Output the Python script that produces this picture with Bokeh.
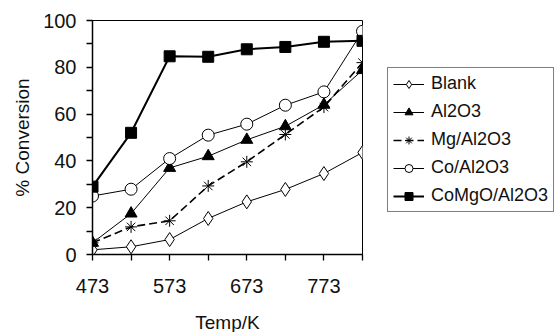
from bokeh.plotting import figure
from bokeh.models import FixedTicker, Legend, LegendItem
from bokeh.embed import file_html
from bokeh.resources import INLINE

temps = [473, 523, 573, 623, 673, 723, 773, 823]
blank = [2, 3.3, 6.4, 15.4, 22.5, 27.8, 34.6, 43.6]
al2o3 = [5, 17.5, 37, 42, 49, 54.8, 64, 78.8]
mg_al2o3 = [5, 11.8, 14.4, 29.3, 39.6, 51.3, 63, 82]
co_al2o3 = [25, 27.9, 41, 51, 55.7, 63.8, 69.5, 95.4]
comgo_al2o3 = [29, 52, 84.7, 84.5, 87.7, 88.7, 90.9, 91.3]

x_major = [473, 573, 673, 773]
x_minor = [523, 623, 723, 823]
y_major = [0, 20, 40, 60, 80, 100]
y_minor = [10, 30, 50, 70, 90]

FONT = "Liberation Sans"

p = figure(frame_width=270, frame_height=234, x_range=(473, 823), y_range=(0, 100),
           output_backend="svg", toolbar_location=None,
           min_border_left=92, min_border_top=20, min_border_bottom=72, min_border_right=180,
           background_fill_color="white", border_fill_color="white")
p.grid.visible = False
p.outline_line_color = "black"
p.outline_line_width = 1

p.xaxis.ticker = FixedTicker(ticks=x_major, minor_ticks=x_minor)
p.yaxis.ticker = FixedTicker(ticks=y_major, minor_ticks=y_minor)
for ax in (p.xaxis[0], p.yaxis[0]):
    ax.axis_line_color = "black"
    ax.axis_line_width = 1.5
    ax.major_tick_in = 0
    ax.major_tick_out = 6
    ax.minor_tick_in = 0
    ax.minor_tick_out = 6
    ax.major_tick_line_color = "black"
    ax.minor_tick_line_color = "black"
    ax.major_tick_line_width = 1.3
    ax.minor_tick_line_width = 1.3
    ax.major_label_text_font = FONT
    ax.major_label_text_font_size = "20px"
    ax.major_label_text_color = "#111111"
    ax.axis_label_text_font = FONT
    ax.axis_label_text_font_size = "19px"
    ax.axis_label_text_font_style = "normal"
    ax.axis_label_text_color = "#111111"
p.xaxis.axis_label = "Temp/K"
p.yaxis.axis_label = "% Conversion"
p.xaxis.major_label_standoff = 18
p.xaxis.axis_label_standoff = 16
p.yaxis.major_label_standoff = 10
p.yaxis.axis_label_standoff = 7

items = []
l1 = p.line(temps, blank, line_color="black", line_width=1)
m1 = p.scatter(temps, blank, marker="diamond", size=14, fill_color="white", line_color="black", line_width=1)
items.append(LegendItem(label="Blank", renderers=[l1, m1]))

l2 = p.line(temps, al2o3, line_color="black", line_width=1)
m2 = p.scatter(temps, al2o3, marker="triangle", size=12, fill_color="black", line_color="black")
items.append(LegendItem(label="Al2O3", renderers=[l2, m2]))

l3 = p.line(temps, mg_al2o3, line_color="black", line_width=1.6, line_dash="8 4")
m3 = p.scatter(temps, mg_al2o3, marker="asterisk", size=12, line_color="black", line_width=1)
items.append(LegendItem(label="Mg/Al2O3", renderers=[l3, m3]))

l4 = p.line(temps, co_al2o3, line_color="black", line_width=1)
m4 = p.scatter(temps, co_al2o3, marker="circle", size=12, fill_color="white", line_color="black", line_width=1)
items.append(LegendItem(label="Co/Al2O3", renderers=[l4, m4]))

l5 = p.line(temps, comgo_al2o3, line_color="black", line_width=2)
m5 = p.scatter(temps, comgo_al2o3, marker="square", size=11, fill_color="black", line_color="black")
items.append(LegendItem(label="CoMgO/Al2O3", renderers=[l5, m5]))

legend = Legend(items=items, location=(25, 42))
legend.border_line_color = "black"
legend.border_line_width = 1
legend.background_fill_color = "white"
legend.background_fill_alpha = 1
legend.label_text_font = FONT
legend.label_text_font_size = "18px"
legend.label_text_color = "#111111"
legend.glyph_width = 31
legend.glyph_height = 20
legend.label_height = 20
legend.spacing = 7
legend.padding = 5
legend.margin = 0
legend.label_standoff = 7
p.add_layout(legend, "right")

open("out.html", "w").write(file_html(p, INLINE))
